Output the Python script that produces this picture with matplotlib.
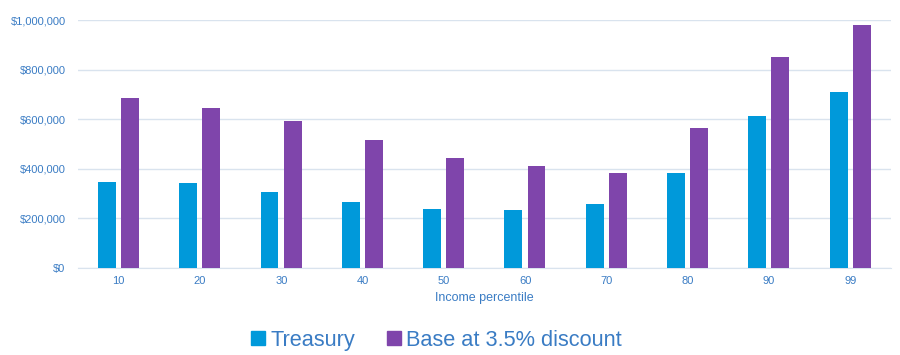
import numpy as np
import matplotlib
matplotlib.use("Agg")
import matplotlib.pyplot as plt
from matplotlib.ticker import FuncFormatter
from matplotlib.lines import Line2D

percentiles = ["10", "20", "30", "40", "50", "60", "70", "80", "90", "99"]
treasury = [347000, 343000, 306000, 267000, 238000, 234000, 258000, 384000, 613000, 708000]
base_35 = [685000, 645000, 593000, 517000, 445000, 410000, 384000, 566000, 851000, 980000]

blue = "#0099DA"
purple = "#7F45AB"
txt = "#3A7CC4"
grid_c = "#D9E3EE"

plt.rcParams["font.family"] = ["Liberation Sans", "DejaVu Sans"]

fig = plt.figure(figsize=(9, 3.55), dpi=100)
ax = fig.add_axes([0.0867, 0.245, 0.9033, 0.6985])

x = np.arange(len(percentiles))
w = 0.22
ax.bar(x - 0.145, treasury, w, color=blue, zorder=3)
ax.bar(x + 0.14, base_35, w, color=purple, zorder=3)

ax.set_xlim(-0.5, len(percentiles) - 0.5)
ax.set_ylim(0, 1000000)
ax.set_yticks(np.arange(0, 1000001, 200000))
ax.yaxis.set_major_formatter(FuncFormatter(lambda v, p: "${:,.0f}".format(v)))
ax.set_xticks(x)
ax.set_xticklabels(percentiles)
ax.grid(axis="y", color=grid_c, linewidth=1, zorder=0)
for s in ["top", "right", "left"]:
    ax.spines[s].set_visible(False)
ax.spines["bottom"].set_color(grid_c)
ax.tick_params(length=0, colors=txt, labelsize=8)
ax.tick_params(axis="y", pad=9)
ax.tick_params(axis="x", pad=6)
ax.set_xlabel("Income percentile", color=txt, fontsize=9, labelpad=4)

handles = [Line2D([], [], marker="s", linestyle="", markersize=9.5, color=blue),
           Line2D([], [], marker="s", linestyle="", markersize=9.5, color=purple)]
fig.legend(handles, ["Treasury", "Base at 3.5% discount"], loc="center",
           bbox_to_anchor=(0.483, 0.042), ncol=2, frameon=False, fontsize=15.7,
           labelcolor=txt, handletextpad=0.05, columnspacing=1.3, handlelength=1.0)

fig.savefig("out.png", dpi=100)
